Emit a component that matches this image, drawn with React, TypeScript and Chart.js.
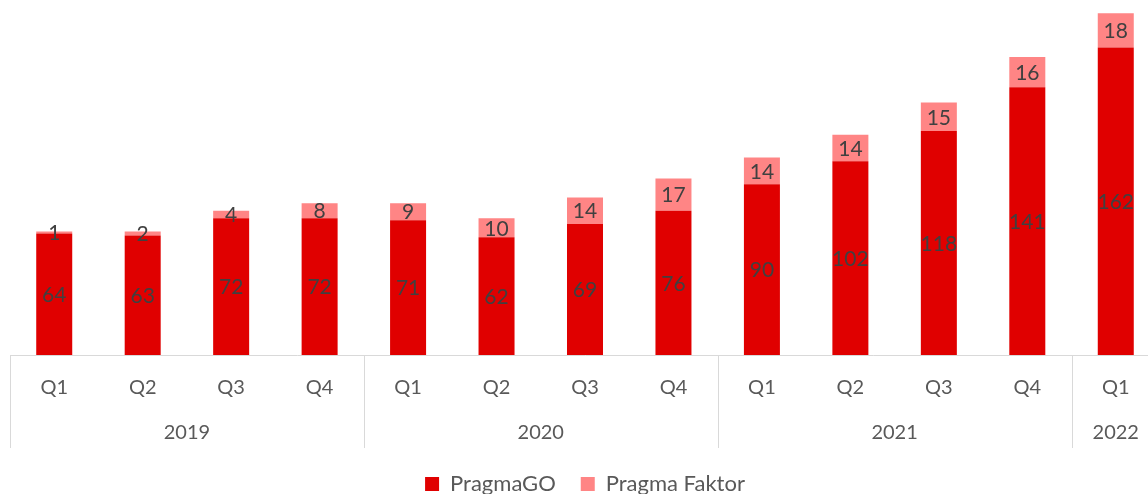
import React, { useEffect, useRef } from "react";
import { Chart, registerables } from "chart.js";

Chart.register(...registerables);

const quarters = ["Q1", "Q2", "Q3", "Q4", "Q1", "Q2", "Q3", "Q4", "Q1", "Q2", "Q3", "Q4", "Q1"];
const years = ["2019", "2020", "2021", "2022"];
const yearSpans = [4, 4, 4, 1];
const pragmaGO = [64, 63, 72, 72, 71, 62, 69, 76, 90, 102, 118, 141, 162];
const pragmaFaktor = [1, 2, 4, 8, 9, 10, 14, 17, 14, 14, 15, 16, 18];

const FONT = "Lato, 'Open Sans', sans-serif";
const GRID = "#d9d9d9";

const labelsPlugin = {
  id: "segLabels",
  afterDatasetsDraw(chart: any) {
    const ctx = chart.ctx;
    ctx.save();
    ctx.font = `21px ${FONT}`;
    ctx.fillStyle = "#404040";
    ctx.textAlign = "center";
    ctx.textBaseline = "middle";
    chart.data.datasets.forEach((ds: any, di: number) => {
      const meta = chart.getDatasetMeta(di);
      meta.data.forEach((el: any, i: number) => {
        const y = (el.y + el.base) / 2;
        ctx.fillText(String(ds.data[i]), el.x, y + 1);
      });
    });
    ctx.restore();
  },
};

const axisPlugin = {
  id: "yearAxis",
  afterDraw(chart: any) {
    const ctx = chart.ctx;
    const xs = chart.scales.x;
    const top = chart.chartArea.bottom;
    const bottom = top + 93;
    const step = xs.getPixelForValue(1) - xs.getPixelForValue(0);
    const edge = (i: number) => xs.getPixelForValue(i) - step / 2;
    ctx.save();
    ctx.strokeStyle = GRID;
    ctx.lineWidth = 1;
    let idx = 0;
    const bounds: number[] = [0];
    yearSpans.forEach((s) => {
      idx += s;
      bounds.push(idx);
    });
    bounds.forEach((b) => {
      const x = Math.round(edge(b)) + 0.5;
      ctx.beginPath();
      ctx.moveTo(x, top);
      ctx.lineTo(x, bottom);
      ctx.stroke();
    });
    ctx.font = `20px ${FONT}`;
    ctx.fillStyle = "#595959";
    ctx.textAlign = "center";
    ctx.textBaseline = "middle";
    years.forEach((yr, k) => {
      const cx = (edge(bounds[k]) + edge(bounds[k + 1])) / 2;
      ctx.fillText(yr, cx, top + 78);
    });
    ctx.restore();
  },
};

export default function App() {
  const ref = useRef<HTMLCanvasElement>(null);
  useEffect(() => {
    if (!ref.current) return;
    const chart = new Chart(ref.current, {
      type: "bar",
      data: {
        labels: quarters,
        datasets: [
          {
            label: "PragmaGO",
            data: pragmaGO,
            backgroundColor: "#e00000",
            barPercentage: 0.407,
            categoryPercentage: 1,
          },
          {
            label: "Pragma Faktor",
            data: pragmaFaktor,
            backgroundColor: "#ff8585",
            barPercentage: 0.407,
            categoryPercentage: 1,
          },
        ],
      },
      options: {
        responsive: false,
        animation: false,
        layout: { padding: { left: 10, right: 2, top: 0, bottom: 0 } },
        scales: {
          x: {
            stacked: true,
            grid: { display: false },
            border: { display: true, color: GRID, width: 1 },
            ticks: {
              color: "#595959",
              font: { family: FONT, size: 20 },
              padding: 13,
              maxRotation: 0,
              autoSkip: false,
            },
            afterFit: (s: any) => {
              s.height = 93;
            },
          },
          y: {
            stacked: true,
            display: false,
            min: 0,
            max: 187,
          },
        },
        plugins: {
          legend: {
            position: "bottom",
            labels: {
              color: "#595959",
              font: { family: FONT, size: 22 },
              boxWidth: 14,
              boxHeight: 14,
              padding: 25,
            },
          },
          tooltip: { enabled: false },
        },
      },
      plugins: [labelsPlugin, axisPlugin],
    });
    return () => chart.destroy();
  }, []);
  return (
    <div style={{ position: "absolute", left: 0, top: 0, width: 1148, height: 494, overflow: "hidden", background: "#fff" }}>
      <canvas ref={ref} width={1162} height={505} style={{ width: 1162, height: 505, display: "block" }} />
    </div>
  );
}
